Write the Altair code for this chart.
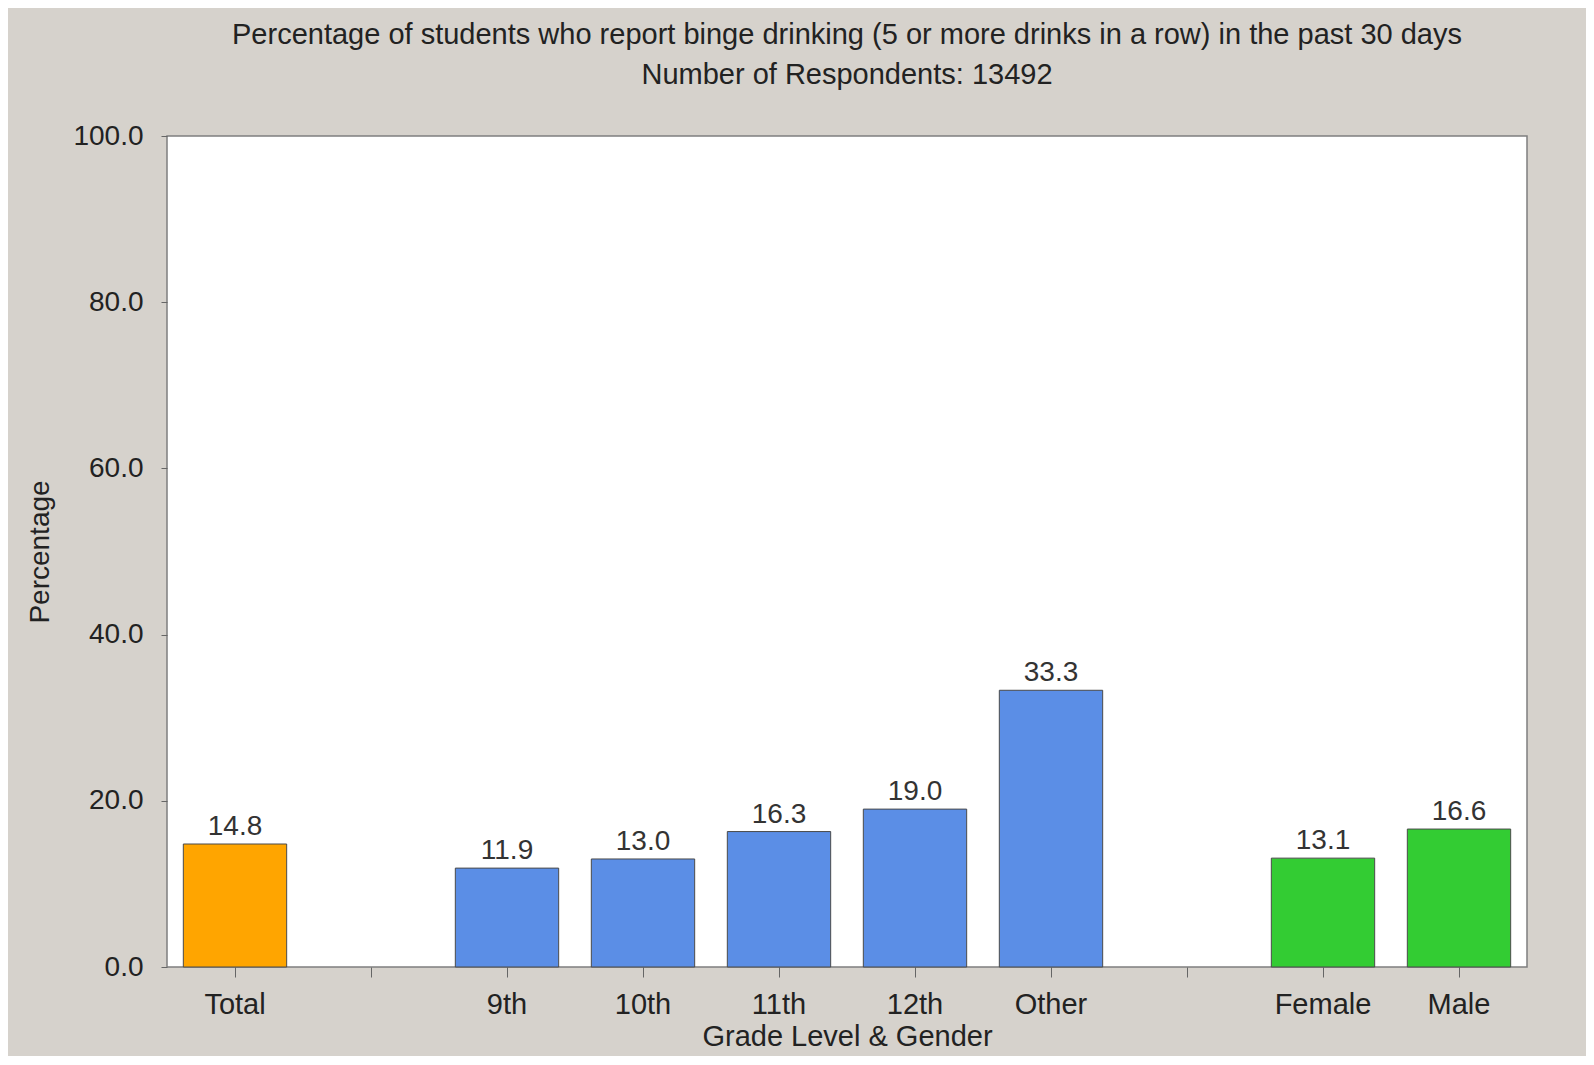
import altair as alt
import pandas as pd

# Data
categories = ["Total", "9th", "10th", "11th", "12th", "Other", "Female", "Male"]
values = [14.8, 11.9, 13.0, 16.3, 19.0, 33.3, 13.1, 16.6]
groups = ["Total", "Grade", "Grade", "Grade", "Grade", "Grade", "Gender", "Gender"]
# Axis slots, including two empty gap slots
x_domain = ["Total", " ", "9th", "10th", "11th", "12th", "Other", "  ", "Female", "Male"]
y_ticks = [0, 20, 40, 60, 80, 100]
group_names = ["Total", "Grade", "Gender"]
group_colors = ["#FFA500", "#5B8EE6", "#33CC33"]

title_lines = [
    "Percentage of students who report binge drinking (5 or more drinks in a row) in the past 30 days",
    "Number of Respondents: 13492",
]

df = pd.DataFrame({"cat": categories, "val": values, "grp": groups})

FONT = "Liberation Sans"
W, H = 1360, 831
x_scale = alt.Scale(domain=x_domain, paddingInner=0.24, paddingOuter=0.12)
y_scale = alt.Scale(domain=[0, 100], nice=False)

x_enc = alt.X(
    "cat:N",
    scale=x_scale,
    sort=x_domain,
    axis=alt.Axis(
        title="Grade Level & Gender",
        labelAngle=0,
        labelFontSize=29,
        labelFont=FONT,
        labelColor="#222222",
        labelPadding=13,
        tickSize=10,
        tickColor="#666666",
        domain=False,
        bandPosition=0.5,
        titleFontSize=29,
        titleFont=FONT,
        titleFontWeight="normal",
        titleColor="#222222",
        titleBaseline="middle",
        titleY=69,
    ),
)

y_enc = alt.Y(
    "val:Q",
    scale=y_scale,
    axis=alt.Axis(
        title="Percentage",
        values=y_ticks,
        format=".1f",
        grid=False,
        domain=False,
        labelFontSize=28,
        labelFont=FONT,
        labelColor="#222222",
        labelPadding=18,
        tickSize=6,
        tickColor="#666666",
        titleFontSize=28,
        titleFont=FONT,
        titleFontWeight="normal",
        titleColor="#222222",
        titleBaseline="middle",
        titleX=-127,
        titleY=H / 2,
    ),
)

color_enc = alt.Color(
    "grp:N",
    scale=alt.Scale(domain=group_names, range=group_colors),
    legend=None,
)

bars = alt.Chart(df).mark_bar(stroke="#4a4a4a", strokeWidth=1).encode(
    x=x_enc, y=y_enc, color=color_enc
)

labels = alt.Chart(df).mark_text(
    baseline="bottom", dy=-3, fontSize=28, font=FONT, color="#333333"
).encode(
    x=alt.X("cat:N", scale=x_scale, sort=x_domain),
    y=alt.Y("val:Q", scale=y_scale),
    text=alt.Text("val:Q", format=".1f"),
)

chart = (
    alt.layer(bars, labels)
    .properties(
        width=W,
        height=H,
        autosize=alt.AutoSizeParams(type="none"),
        padding={"left": 159, "top": 128, "right": 59, "bottom": 89},
        background="#D6D2CC",
        title=alt.TitleParams(
            text=title_lines,
            fontSize=29,
            font=FONT,
            fontWeight="normal",
            color="#222222",
            lineHeight=40,
            anchor="middle",
            frame="group",
            baseline="bottom",
            offset=3,
        ),
    )
    .configure_view(fill="white", stroke="#7f7f7f", strokeWidth=1.5)
)

chart.save("out.html", embed_options={"renderer": "svg", "actions": False})
